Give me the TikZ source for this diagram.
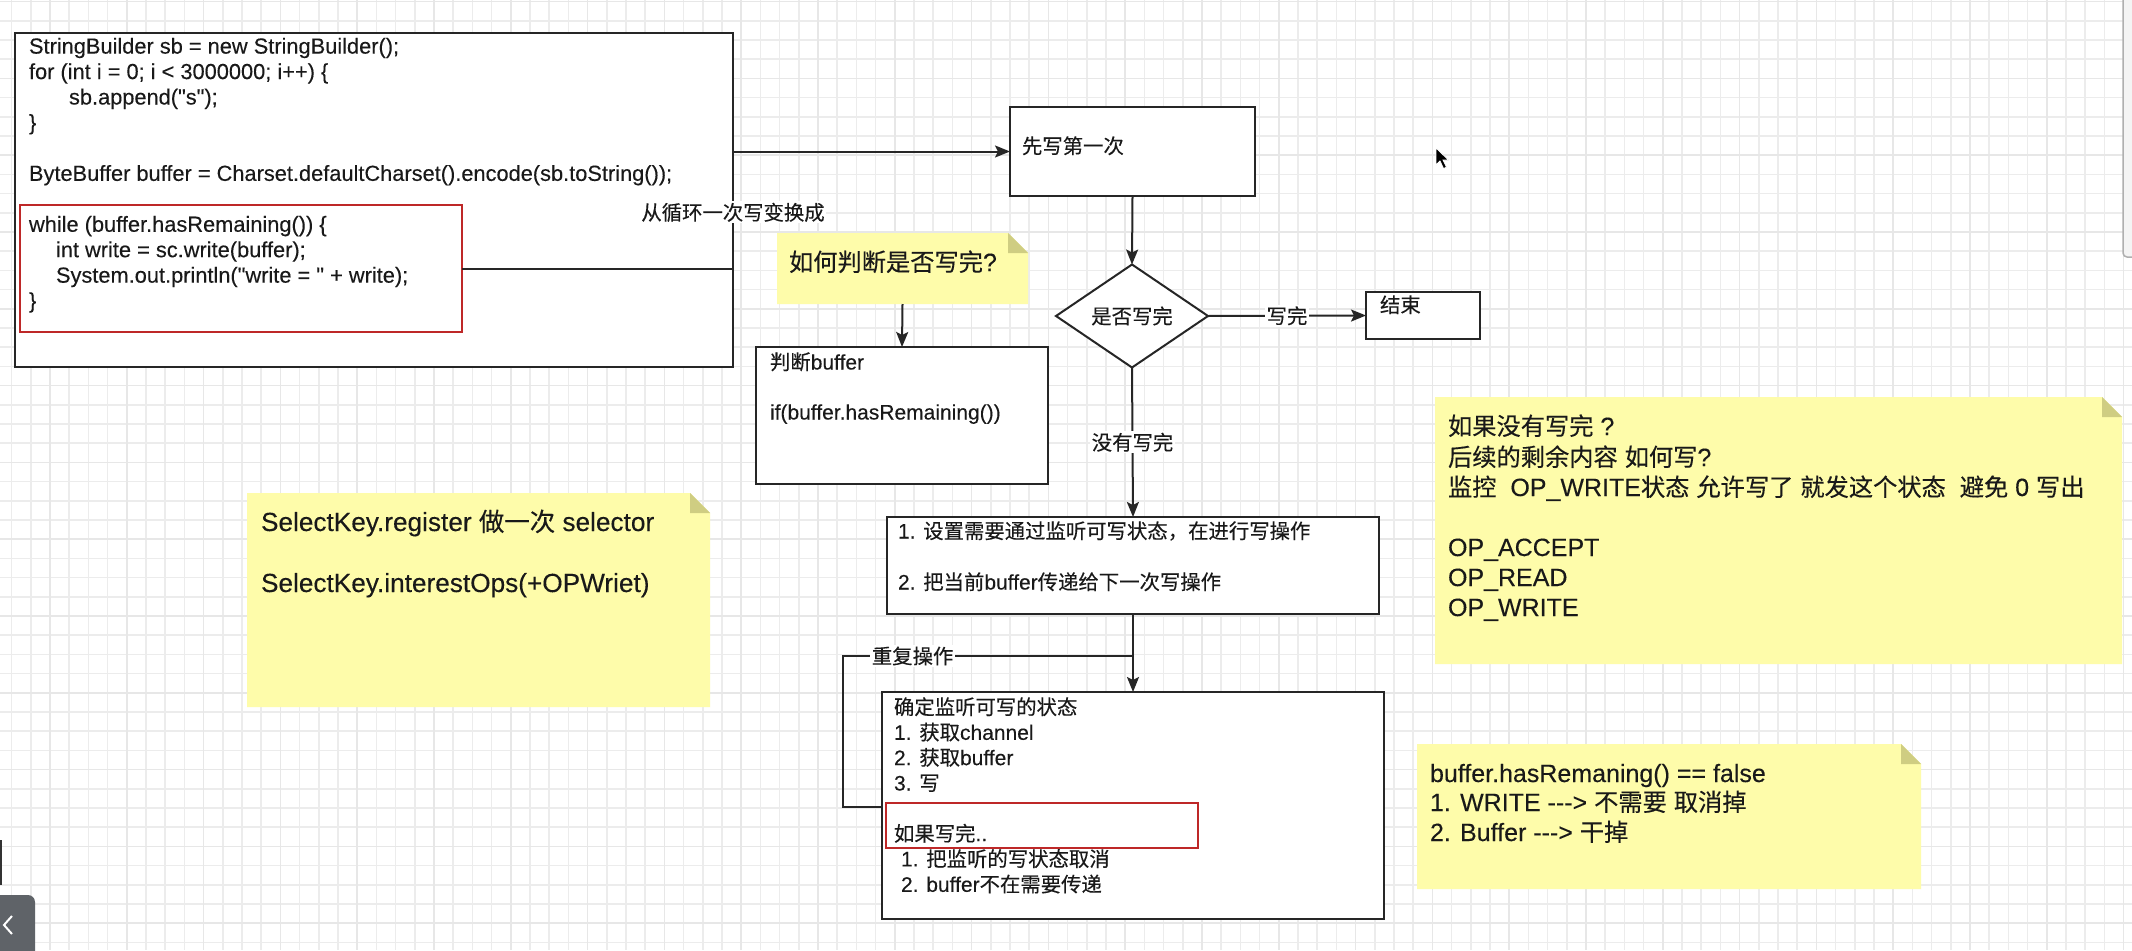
\documentclass[tikz,border=0pt]{standalone}
\usepackage{fontspec}
\newfontfamily\lat[FakeBold=0.2]{Liberation Sans}
\newfontfamily\cjk[Scale=0.97,FakeBold=0.25]{Noto Sans CJK SC}
\usetikzlibrary{arrows.meta,shapes.geometric,calc}
\XeTeXinterchartokenstate=1
\newXeTeXintercharclass\zhcls
\newcount\zhcnt
\zhcnt="4E00
\loop\ifnum\zhcnt<"9FA6 \XeTeXcharclass\zhcnt=\zhcls \advance\zhcnt by 1 \repeat
\XeTeXcharclass"FF0C=\zhcls
\XeTeXcharclass"3001=\zhcls
\XeTeXcharclass"3002=\zhcls
\XeTeXinterchartoks 0 \zhcls = {\cjk}
\XeTeXinterchartoks 4095 \zhcls = {\cjk}
\XeTeXinterchartoks \zhcls 0 = {\lat}
\XeTeXinterchartoks \zhcls 4095 = {\lat}
\definecolor{linec}{RGB}{38,38,38}
\definecolor{textc}{RGB}{25,25,25}
\definecolor{redc}{RGB}{190,40,40}
\definecolor{notec}{RGB}{254,252,170}
\definecolor{foldc}{RGB}{207,205,130}
\definecolor{gmin}{RGB}{236,236,236}
\definecolor{gmaj}{RGB}{231,231,231}
\definecolor{btnc}{RGB}{95,99,104}
\definecolor{scrc}{RGB}{244,244,244}
\definecolor{scrl}{RGB}{175,175,175}
\newcommand\fsz[1]{\fontsize{#1}{#1}\selectfont\lat}
\newcommand\drawnote[1]{%
  \fill[notec] (#1.north west) -- ([xshift=-20pt]#1.north east) -- ([yshift=-20pt]#1.north east) -- (#1.south east) -- (#1.south west) -- cycle;
  \fill[foldc] ([xshift=-20pt]#1.north east) -- ([xshift=-20pt,yshift=-20pt]#1.north east) -- ([yshift=-20pt]#1.north east) -- cycle;}
\tikzset{
  box/.style={draw=linec, line width=2pt, fill=white, inner sep=0pt, outer sep=0pt, anchor=north west},
  redbox/.style={draw=redc, line width=2pt, inner sep=0pt, outer sep=0pt, anchor=north west},
  notebox/.style={inner sep=0pt, outer sep=0pt, anchor=north west},
  tx/.style={anchor=base west, inner sep=0pt, outer sep=0pt, text=textc, font=\fsz{21}},
  codetx/.style={tx, font=\fsz{21.8}},
  notetx/.style={tx, font=\fsz{25}},
  lbl/.style={fill=white, inner sep=1.5pt, text=textc, font=\fsz{21}},
  conn/.style={draw=linec, line width=2pt, -{Stealth[length=15pt,width=12pt,inset=3pt]}},
  plainline/.style={draw=linec, line width=2pt},
}
\begin{document}
\begin{tikzpicture}[x=1pt,y=-1pt]
\useasboundingbox (0,0) rectangle (2132,950);
\fill[white] (0,0) rectangle (2132,950);
% grid
\foreach \i in {0,...,110} {\draw[gmin, line width=1.5pt] ({11.6+19.2*\i},0) -- ({11.6+19.2*\i},950);}
\foreach \j in {0,...,49} {\draw[gmin, line width=1.5pt] (0,{1.6+19.2*\j}) -- (2132,{1.6+19.2*\j});}
\foreach \i in {0,...,27} {\draw[gmaj, line width=1.5pt] ({50+76.8*\i},0) -- ({50+76.8*\i},950);}
\foreach \j in {0,...,12} {\draw[gmaj, line width=1.5pt] (0,{1.6+76.8*\j}) -- (2132,{1.6+76.8*\j});}

% code box
\node[box, minimum width=718pt, minimum height=334pt] (code) at (15,33) {};
\node[redbox, minimum width=442pt, minimum height=127pt] (loop) at (20,205) {};
\node[codetx] (c1) at (29,53.6) {StringBuilder sb = new StringBuilder();};
\node[codetx] (c2) at (29,79.05) {for (int i = 0; i < 3000000; i++) \{};
\node[codetx] (c3) at (69,104.5) {sb.append("s");};
\node[codetx] (c4) at (29,129.95) {\}};
\node[codetx] (c5) at (29,180.85) {ByteBuffer buffer = Charset.defaultCharset().encode(sb.toString());};
\node[codetx] (c6) at (29,231.75) {while (buffer.hasRemaining()) \{};
\node[codetx] (c7) at (56,257.2) {int write = sc.write(buffer);};
\node[codetx] (c8) at (56,282.65) {System.out.println("write = " + write);};
\node[codetx] (c9) at (29,308.1) {\}};

% notes
\node[notebox, minimum width=251pt, minimum height=71pt] (n1) at (777,233) {};
\drawnote{n1}
\node[notebox, minimum width=463pt, minimum height=214pt] (n2) at (247,493) {};
\drawnote{n2}
\node[notebox, minimum width=687pt, minimum height=267pt] (n3) at (1435,397) {};
\drawnote{n3}
\node[notebox, minimum width=504pt, minimum height=145pt] (n4) at (1417,744) {};
\drawnote{n4}
\node[notetx] (n1t) at (789,271) {如何判断是否写完?};
\node[notetx, font=\fsz{26.2}] (n2a) at (261,531) {SelectKey.register 做一次 selector};
\node[notetx, font=\fsz{26.2}] (n2b) at (261,592) {SelectKey.interestOps(+OPWriet)};
\node[notetx] (n3a) at (1448,435) {如果没有写完 ?};
\node[notetx] (n3b) at (1448,466) {后续的剩余内容 如何写?};
\node[notetx] (n3c) at (1448,496) {监控\ \ OP\_WRITE状态 允许写了 就发这个状态\ \ 避免 0 写出};
\node[notetx] (n3d) at (1448,556) {OP\_ACCEPT};
\node[notetx] (n3e) at (1448,586) {OP\_READ};
\node[notetx] (n3f) at (1448,616) {OP\_WRITE};
\node[notetx] (n4a) at (1430,782) {buffer.hasRemaning() == false};
\node[notetx] (n4b) at (1430,811) {1. WRITE -{}-{}-> 不需要 取消掉};
\node[notetx] (n4c) at (1430,841) {2. Buffer -{}-{}-> 干掉};

% flow boxes
\node[box, minimum width=245pt, minimum height=89pt] (first) at (1010,107) {};
\node[tx] (ft) at (1022,153.5) {先写第一次};
\node[draw=linec, line width=2pt, fill=white, diamond, minimum width=152pt, minimum height=103pt, inner sep=0pt, outer sep=0pt, text=textc, font=\fsz{21}] (dec) at (1132,316) {是否写完};
\node[box, minimum width=114pt, minimum height=47pt] (end) at (1366,292) {};
\node[tx] (et) at (1380,312.5) {结束};
\node[box, minimum width=292pt, minimum height=137pt] (judge) at (756,347) {};
\node[tx] (j1) at (770,369.5) {判断buffer};
\node[tx] (j2) at (770,419.5) {if(buffer.hasRemaining())};
\node[box, minimum width=492pt, minimum height=97pt] (box1) at (887,517) {};
\node[tx] (b1a) at (898,538.5) {1. 设置需要通过监听可写状态，在进行写操作};
\node[tx] (b1b) at (898,589.5) {2. 把当前buffer传递给下一次写操作};
\node[box, minimum width=502pt, minimum height=227pt] (box2) at (882,692) {};
\node[redbox, minimum width=312pt, minimum height=45pt] (done) at (886,803) {};
\node[tx] (b2a) at (894,714.5) {确定监听可写的状态};
\node[tx] (b2b) at (894,739.8) {1. 获取channel};
\node[tx] (b2c) at (894,765.1) {2. 获取buffer};
\node[tx] (b2d) at (894,790.5) {3. 写};
\node[tx] (b2e) at (894,841.1) {如果写完..};
\node[tx] (b2f) at (901,866.4) {1. 把监听的写状态取消};
\node[tx] (b2g) at (901,891.8) {2. buffer不在需要传递};

% connectors
\coordinate (bend) at (733,268.5);
\draw[conn] (loop.east) -- (bend) |- node[lbl,pos=0.24]{从循环一次写变换成} (first.west);
\draw[conn] (first.south) -- (dec.north);
\draw[conn] (dec.east) -- node[lbl]{写完} (end.west);
\draw[conn] (n1.south) -- (judge.north);
\draw[conn] (dec.south) -- node[lbl]{没有写完} (box1.north);
\draw[conn] (box1.south) -- (box2.north);
\coordinate (loopstart) at (882,807);
\coordinate (lpc) at (843,656);
\draw[plainline] (loopstart) -| (lpc) -- node[lbl,pos=0.24]{重复操作} (lpc -| box1.south);

% screen artefacts
\draw[fill=scrc, draw=scrl, line width=1.5pt, rounded corners=4pt] (2140,-10) -- (2123,-10) -- (2123,257) -- (2140,257);
\draw[gray!40!black, line width=1.5pt] (0.75,840) -- (0.75,885);
\fill[btnc, rounded corners=7pt] (-10,895) rectangle (35,960);
\draw[white, line width=2pt] (12,916) -- (4,925) -- (12,934);
\fill[black, draw=white, line width=0.8pt] (1436,148) -- (1436,165) -- (1440,161) -- (1443.5,168.5) -- (1446.5,167.2) -- (1443,160) -- (1448.5,160) -- cycle;
\end{tikzpicture}
\end{document}
